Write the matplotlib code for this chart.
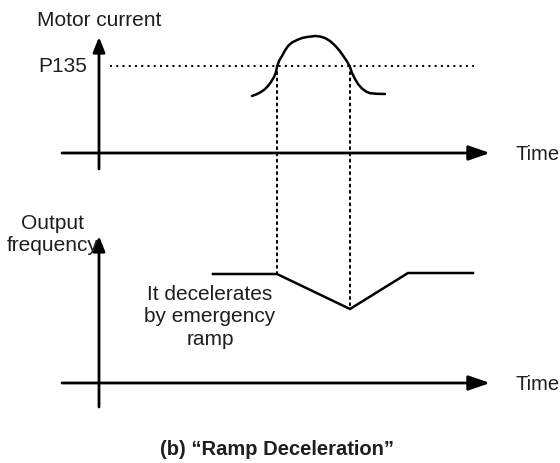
import matplotlib
matplotlib.use('Agg')
import matplotlib.pyplot as plt
from matplotlib.patches import ConnectionPatch

plt.rcParams['font.family'] = ['Liberation Sans', 'DejaVu Sans']

# ─── DATA (time in arbitrary units, values in arbitrary units) ────────────────
# motor current curve
cur_t = [15.3, 15.7, 16.1, 16.5, 16.9, 17.2, 17.5, 17.7, 17.8, 18.0, 18.3,
         18.6, 18.9, 19.3, 19.8, 20.3, 20.8, 21.2, 21.6, 22.1, 22.6, 23.1,
         23.6, 24.0, 24.4, 24.8, 25.1, 25.3, 25.6, 25.9, 26.3, 26.7, 27.1,
         27.8, 28.6]
cur_i = [5.7, 5.85, 6.05, 6.3, 6.7, 7.1, 7.6, 8.1, 8.6, 9.2, 9.7,
         10.25, 10.7, 11.05, 11.3, 11.5, 11.6, 11.65, 11.7, 11.65, 11.5, 11.2,
         10.75, 10.3, 9.75, 9.15, 8.6, 8.0, 7.4, 6.9, 6.45, 6.15, 5.98,
         5.92, 5.9]
p135 = 8.7

# output frequency curve
freq_t = [11.4, 17.8, 25.1, 30.9, 37.4]
freq_f = [10.9, 10.9, 7.4, 11.0, 11.0]

# instants where the current crosses P135
t_cross = [17.8, 25.1]
f_cross = [10.9, 7.4]

T_MIN, T_MAX = -3.7, 39.1

DOT = (0, (1, 2.1))
LW_DOT = 1.45
LW_AX = 2.0
LW_CURVE = 1.8
FS = 15
TXT = '#1e1e1e'

fig = plt.figure(figsize=(5.6, 4.64), dpi=100)
ax_top = fig.add_axes([0, 0.5, 1, 0.5])
ax_bot = fig.add_axes([0, 0.0, 1, 0.5])
ax_top.set_xlim(-9.9, 46.1)
ax_top.set_ylim(-7.8, 15.4)
ax_bot.set_xlim(-9.9, 46.1)
ax_bot.set_ylim(-8.0, 15.2)
for ax in (ax_top, ax_bot):
    ax.axis('off')


def draw_axes(ax, y_low, y_high):
    ax.annotate('', xy=(T_MAX, 0), xytext=(T_MIN, 0),
                arrowprops=dict(arrowstyle='-|>,head_length=1.3,head_width=0.45',
                                lw=LW_AX, color='k', mutation_scale=10,
                                shrinkA=0, shrinkB=0))
    ax.annotate('', xy=(0, y_high), xytext=(0, y_low),
                arrowprops=dict(arrowstyle='-|>,head_length=0.9,head_width=0.36',
                                lw=LW_AX, color='k', mutation_scale=10,
                                shrinkA=0, shrinkB=0))
    ax.text(T_MAX + 2.5, -0.1, 'Time', fontsize=14.5, va='center', ha='left',
            color=TXT)


# ─── TOP: motor current ───────────────────────────────────────────────────────
draw_axes(ax_top, -1.6, 11.6)
ax_top.plot([1.1, 37.9], [p135, p135], color='k', lw=LW_DOT, linestyle=DOT)
ax_top.plot(cur_t, cur_i, color='k', lw=LW_CURVE, solid_joinstyle='round',
            solid_capstyle='round')
ax_top.text(-6.2, 13.4, 'Motor current', fontsize=FS, va='center', ha='left',
            color=TXT)
ax_top.text(-6.1, p135, 'P135', fontsize=FS, va='center', ha='left',
            color=TXT)

# ─── BOTTOM: output frequency ─────────────────────────────────────────────────
draw_axes(ax_bot, -2.4, 14.7)
ax_bot.plot(freq_t, freq_f, color='k', lw=LW_CURVE, solid_joinstyle='miter')
ax_bot.text(-4.6, 14.9, 'Output\nfrequency', fontsize=FS, va='center',
            ha='center', linespacing=1.2, color=TXT)
ax_bot.text(11.1, 6.7, 'It decelerates\nby emergency\nramp', fontsize=FS,
            va='center', ha='center', linespacing=1.25, color=TXT)

# dotted guides from the P135 crossings down to the frequency curve
for t, f in zip(t_cross, f_cross):
    con = ConnectionPatch(xyA=(t, p135), coordsA=ax_top.transData,
                          xyB=(t, f), coordsB=ax_bot.transData,
                          color='k', lw=LW_DOT, linestyle=DOT)
    fig.add_artist(con)

fig.text(277 / 560, 1 - 450 / 464, '(b) \u201cRamp Deceleration\u201d',
         fontsize=14.5, fontweight='bold', ha='center', va='center',
         color=TXT)

fig.savefig('out.png', dpi=100)
